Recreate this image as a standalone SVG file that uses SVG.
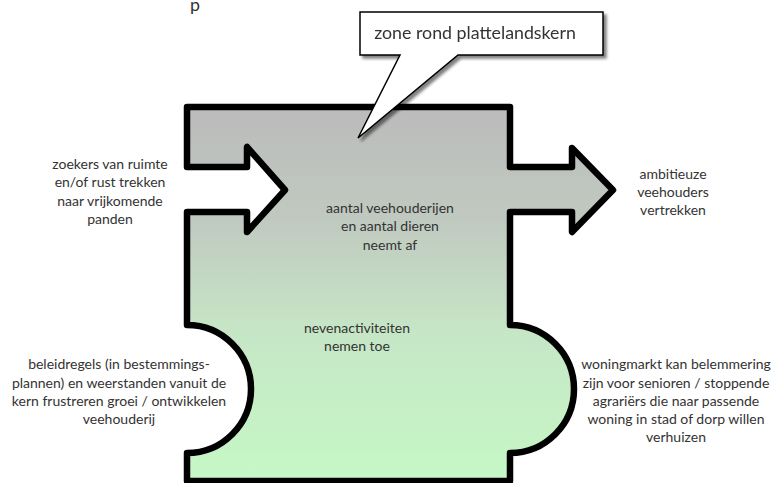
<svg xmlns="http://www.w3.org/2000/svg" width="774" height="483" viewBox="0 0 774 483">
<style>
.t{font-family:Lato,"Open Sans","Liberation Sans",sans-serif;font-size:14px;fill:#333;text-anchor:middle}
.c{font-family:Lato,"Open Sans","Liberation Sans",sans-serif;font-size:17.8px;fill:#333}
</style>
<defs>
<linearGradient id="g" gradientUnits="userSpaceOnUse" x1="0" y1="107" x2="0" y2="481">
<stop offset="0" stop-color="#bbbbbb"/>
<stop offset="0.3" stop-color="#c0c9c0"/>
<stop offset="0.6" stop-color="#c6e6c6"/>
<stop offset="1" stop-color="#c6f8c6"/>
</linearGradient>
<filter id="sh" x="-10%" y="-10%" width="130%" height="140%">
<feGaussianBlur in="SourceAlpha" stdDeviation="1.5"/>
<feOffset dx="3" dy="3" result="b"/>
<feComponentTransfer><feFuncA type="linear" slope="0.5"/></feComponentTransfer>
<feMerge><feMergeNode/><feMergeNode in="SourceGraphic"/></feMerge>
</filter>
</defs>
<text class="c" x="190" y="11">p</text>
<g id="zone">
<path d="M187,107 H510 V167 H572 V148 L613,190 L572,232 V212 H510 V325 A64,64 0 0 1 510,453 V481 H187 V453 A64,64 0 0 0 187,325 V212 H247 V232 L285,190 L247,147 V167 H187 Z" fill="url(#g)" stroke="#000" stroke-width="6.5" stroke-linejoin="round"/>
<text class="t"><tspan x="390" y="213">aantal veehouderijen</tspan><tspan x="390" y="231">en aantal dieren</tspan><tspan x="390" y="250">neemt af</tspan></text>
<text class="t"><tspan x="357" y="333">nevenactiviteiten</tspan><tspan x="357" y="351">nemen toe</tspan></text>
</g>
<g id="callout" filter="url(#sh)">
<path d="M360,12 H603 V55 H458 L358,138 L400,55 H360 Z" fill="#fff" stroke="#000" stroke-width="1.5" stroke-linejoin="miter"/>
<text class="c" x="475" y="39" text-anchor="middle">zone rond plattelandskern</text>
</g>
<g id="in-left">
<text class="t"><tspan x="110" y="169">zoekers van ruimte</tspan><tspan x="110" y="187">en/of rust trekken</tspan><tspan x="110" y="206">naar vrijkomende</tspan><tspan x="110" y="224">panden</tspan></text>
</g>
<g id="out-right">
<text class="t"><tspan x="673" y="179">ambitieuze</tspan><tspan x="673" y="197">veehouders</tspan><tspan x="673" y="215">vertrekken</tspan></text>
</g>
<g id="barrier-left">
<text class="t"><tspan x="119" y="369">beleidregels (in bestemmings-</tspan><tspan x="119" y="388">plannen) en weerstanden vanuit de</tspan><tspan x="119" y="406">kern frustreren groei / ontwikkelen</tspan><tspan x="119" y="424">veehouderij</tspan></text>
</g>
<g id="barrier-right">
<text class="t"><tspan x="676" y="369">woningmarkt kan belemmering</tspan><tspan x="676" y="388">zijn voor senioren / stoppende</tspan><tspan x="676" y="406">agrariërs die naar passende</tspan><tspan x="676" y="424">woning in stad of dorp willen</tspan><tspan x="676" y="442">verhuizen</tspan></text>
</g>
</svg>
